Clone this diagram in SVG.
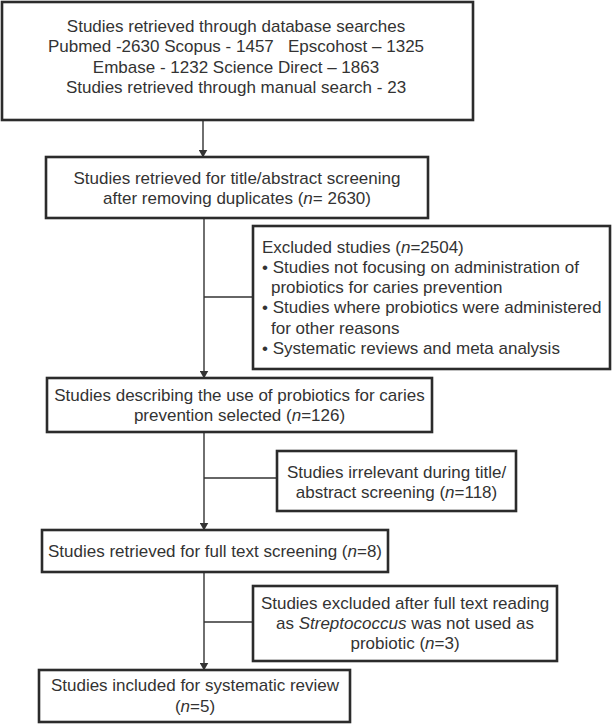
<svg xmlns="http://www.w3.org/2000/svg" width="612" height="724" viewBox="0 0 612 724">
<defs>
<style>
.box{fill:#fff;stroke:#2b2b2b;stroke-width:2.6}
.t{font-family:"Liberation Sans",Arial,sans-serif;font-size:17px;fill:#333;}
.c{text-anchor:middle}
.ln{stroke:#333;stroke-width:1.4;fill:none}
</style>
<marker id="ah" markerWidth="8" markerHeight="9" refX="7.5" refY="4.5" orient="auto" markerUnits="userSpaceOnUse">
<path d="M0,0 L8,4.5 L0,9 Z" fill="#333"/>
</marker>
</defs>
<rect width="612" height="724" fill="#fff"/>
<g id="connectors">
<line class="ln" x1="203" y1="120" x2="203" y2="157" marker-end="url(#ah)"/>
<line class="ln" x1="204" y1="218" x2="204" y2="378" marker-end="url(#ah)"/>
<line class="ln" x1="204" y1="297" x2="253" y2="297"/>
<line class="ln" x1="204" y1="432" x2="204" y2="530" marker-end="url(#ah)"/>
<line class="ln" x1="204" y1="478" x2="277" y2="478"/>
<line class="ln" x1="204" y1="572" x2="204" y2="670" marker-end="url(#ah)"/>
<line class="ln" x1="204" y1="622" x2="253" y2="622"/>
</g>
<g id="n1">
<rect class="box" x="2" y="2" width="471" height="118"/>
<text class="t c" x="236" y="32">Studies retrieved through database searches</text>
<text class="t c" x="236" y="52" style="white-space:pre">Pubmed -2630 Scopus - 1457   Epscohost – 1325</text>
<text class="t c" x="236" y="73">Embase - 1232 Science Direct – 1863</text>
<text class="t c" x="236" y="93">Studies retrieved through manual search - 23</text>
</g>
<g id="n2">
<rect class="box" x="46" y="157" width="382" height="61"/>
<text class="t c" x="237" y="184">Studies retrieved for title/abstract screening</text>
<text class="t c" x="237" y="204">after removing duplicates (<tspan font-style="italic">n</tspan>= 2630)</text>
</g>
<g id="n3">
<rect class="box" x="253" y="226" width="357" height="143"/>
<text class="t" x="262" y="253">Excluded studies (<tspan font-style="italic">n</tspan>=2504)</text>
<text class="t" x="262" y="273">• Studies not focusing on administration of</text>
<text class="t" x="271" y="293">probiotics for caries prevention</text>
<text class="t" x="262" y="313">• Studies where probiotics were administered</text>
<text class="t" x="271" y="334">for other reasons</text>
<text class="t" x="262" y="354">• Systematic reviews and meta analysis</text>
</g>
<g id="n4">
<rect class="box" x="47" y="378" width="385" height="54"/>
<text class="t c" x="239.5" y="401">Studies describing the use of probiotics for caries</text>
<text class="t c" x="239.5" y="421">prevention selected (<tspan font-style="italic">n</tspan>=126)</text>
</g>
<g id="n5">
<rect class="box" x="277" y="451" width="239" height="60"/>
<text class="t c" x="396.5" y="478">Studies irrelevant during title/</text>
<text class="t c" x="396.5" y="498">abstract screening (<tspan font-style="italic">n</tspan>=118)</text>
</g>
<g id="n6">
<rect class="box" x="42" y="530" width="346" height="42"/>
<text class="t c" x="215" y="557">Studies retrieved for full text screening (<tspan font-style="italic">n</tspan>=8)</text>
</g>
<g id="n7">
<rect class="box" x="253" y="586" width="304" height="75"/>
<text class="t c" x="405" y="609">Studies excluded after full text reading</text>
<text class="t c" x="405" y="629">as <tspan font-style="italic">Streptococcus</tspan> was not used as</text>
<text class="t c" x="405" y="649">probiotic (<tspan font-style="italic">n</tspan>=3)</text>
</g>
<g id="n8">
<rect class="box" x="39" y="670" width="311" height="52"/>
<text class="t c" x="195" y="691">Studies included for systematic review</text>
<text class="t c" x="195" y="712">(<tspan font-style="italic">n</tspan>=5)</text>
</g>
</svg>
